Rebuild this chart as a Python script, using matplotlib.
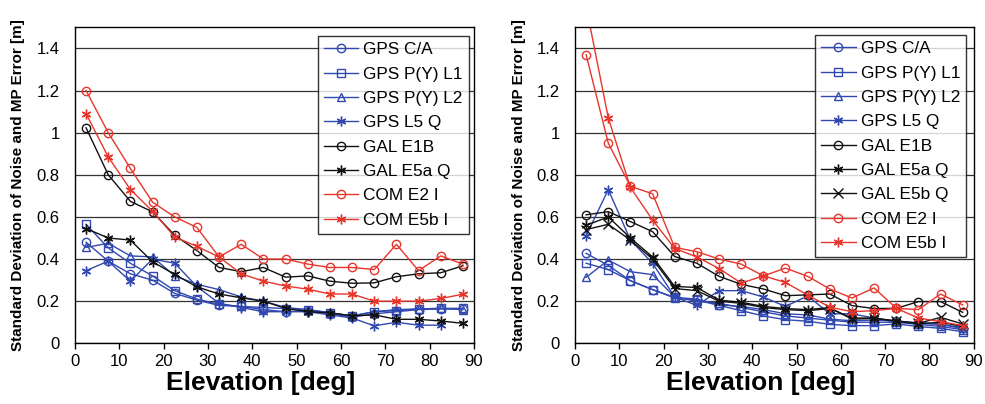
import matplotlib
matplotlib.use("Agg")
import matplotlib.pyplot as plt

plt.rcParams['font.family'] = ['Liberation Sans', 'DejaVu Sans']

# elevation bins [deg]
elev = [2.5, 7.5, 12.5, 17.5, 22.5, 27.5, 32.5, 37.5, 42.5, 47.5,
        52.5, 57.5, 62.5, 67.5, 72.5, 77.5, 82.5, 87.5]

# left panel
gps_ca_l = [0.48, 0.39, 0.33, 0.30, 0.237, 0.205, 0.18, 0.175, 0.16, 0.15,
            0.155, 0.14, 0.125, 0.14, 0.15, 0.16, 0.163, 0.163]
gps_l1_l = [0.565, 0.453, 0.38, 0.32, 0.25, 0.21, 0.185, 0.175, 0.17, 0.165,
            0.16, 0.145, 0.13, 0.15, 0.155, 0.163, 0.166, 0.166]
gps_l2_l = [0.455, 0.475, 0.415, 0.41, 0.32, 0.28, 0.255, 0.22, 0.20, 0.17,
            0.16, 0.145, 0.13, 0.15, 0.16, 0.163, 0.166, 0.16]
gps_l5_l = [0.345, 0.39, 0.295, 0.40, 0.38, 0.27, 0.19, 0.17, 0.15, 0.15,
            0.15, 0.135, 0.12, 0.083, 0.10, 0.086, 0.086]
gal_e1b_l = [1.023, 0.80, 0.674, 0.624, 0.513, 0.44, 0.36, 0.34, 0.36, 0.314,
             0.32, 0.295, 0.285, 0.287, 0.316, 0.33, 0.335, 0.368]
gal_e5a_l = [0.545, 0.50, 0.49, 0.387, 0.327, 0.268, 0.234, 0.216, 0.20, 0.166,
             0.15, 0.145, 0.13, 0.135, 0.114, 0.114, 0.106, 0.095]
com_e2_l = [1.2, 1.0, 0.83, 0.67, 0.60, 0.55, 0.41, 0.47, 0.40, 0.40,
            0.376, 0.36, 0.36, 0.35, 0.47, 0.345, 0.415, 0.376]
com_e5b_l = [1.09, 0.885, 0.73, 0.627, 0.505, 0.46, 0.41, 0.33, 0.295, 0.272,
             0.257, 0.234, 0.234, 0.20, 0.20, 0.20, 0.213, 0.233]

# right panel
gps_ca_r = [0.427, 0.37, 0.297, 0.255, 0.218, 0.21, 0.183, 0.175, 0.16, 0.14,
            0.135, 0.115, 0.107, 0.11, 0.107, 0.095, 0.09, 0.075]
gps_l1_r = [0.38, 0.35, 0.297, 0.255, 0.215, 0.205, 0.18, 0.155, 0.13, 0.112,
            0.105, 0.09, 0.084, 0.084, 0.092, 0.08, 0.071, 0.055]
gps_l2_r = [0.313, 0.395, 0.34, 0.326, 0.22, 0.20, 0.19, 0.17, 0.15, 0.13,
            0.12, 0.11, 0.10, 0.10, 0.10, 0.09, 0.08, 0.065]
gps_l5_r = [0.51, 0.73, 0.49, 0.38, 0.22, 0.18, 0.25, 0.25, 0.22, 0.175,
            0.225, 0.14, 0.14, 0.12, 0.10, 0.10, 0.09, 0.07]
gal_e1b_r = [0.61, 0.625, 0.578, 0.53, 0.412, 0.38, 0.318, 0.28, 0.258, 0.226,
             0.23, 0.234, 0.179, 0.165, 0.166, 0.198, 0.198, 0.147]
gal_e5a_r = [0.56, 0.60, 0.50, 0.41, 0.27, 0.265, 0.205, 0.195, 0.175, 0.165,
             0.16, 0.17, 0.115, 0.118, 0.107, 0.092, 0.10, 0.08]
gal_e5b_r = [0.54, 0.565, 0.49, 0.40, 0.26, 0.25, 0.20, 0.19, 0.17, 0.16,
             0.155, 0.165, 0.12, 0.12, 0.105, 0.095, 0.123, 0.092]
com_e2_r = [1.37, 0.95, 0.745, 0.71, 0.455, 0.435, 0.40, 0.376, 0.32, 0.357,
            0.318, 0.258, 0.215, 0.263, 0.166, 0.16, 0.234, 0.182]
com_e5b_r = [1.6, 1.07, 0.74, 0.585, 0.45, 0.41, 0.355, 0.286, 0.32, 0.289,
             0.229, 0.172, 0.15, 0.155, 0.166, 0.12, 0.103, 0.084]

BLUE = '#3048b0'
RED = '#e8352b'
BLACK = '#111111'
STAR = (6, 2, 0)

left_series = [
    ('GPS C/A', gps_ca_l, BLUE, 'o'),
    ('GPS P(Y) L1', gps_l1_l, BLUE, 's'),
    ('GPS P(Y) L2', gps_l2_l, BLUE, '^'),
    ('GPS L5 Q', gps_l5_l, BLUE, STAR),
    ('GAL E1B', gal_e1b_l, BLACK, 'o'),
    ('GAL E5a Q', gal_e5a_l, BLACK, STAR),
    ('COM E2 I', com_e2_l, RED, 'o'),
    ('COM E5b I', com_e5b_l, RED, STAR),
]
right_series = [
    ('GPS C/A', gps_ca_r, BLUE, 'o'),
    ('GPS P(Y) L1', gps_l1_r, BLUE, 's'),
    ('GPS P(Y) L2', gps_l2_r, BLUE, '^'),
    ('GPS L5 Q', gps_l5_r, BLUE, STAR),
    ('GAL E1B', gal_e1b_r, BLACK, 'o'),
    ('GAL E5a Q', gal_e5a_r, BLACK, STAR),
    ('GAL E5b Q', gal_e5b_r, BLACK, 'x'),
    ('COM E2 I', com_e2_r, RED, 'o'),
    ('COM E5b I', com_e5b_r, RED, STAR),
]


def draw_panel(ax, series, legend_anchor):
    for name, vals, col, mk in series:
        ms = 7 if mk in (STAR, 'x') else 6
        ax.plot(elev[:len(vals)], vals, color=col, lw=1.0, marker=mk,
                markersize=ms, markerfacecolor='none', markeredgecolor=col,
                markeredgewidth=1.0, label=name)
    ax.set_xlim(0, 90)
    ax.set_ylim(0, 1.5)
    ax.set_xticks(range(0, 91, 10))
    ax.set_yticks([0, 0.2, 0.4, 0.6, 0.8, 1.0, 1.2, 1.4])
    ax.set_yticklabels(['0', '0.2', '0.4', '0.6', '0.8', '1', '1.2', '1.4'])
    ax.yaxis.grid(True, color='#333333', lw=0.9)
    ax.set_axisbelow(True)
    ax.tick_params(axis='y', length=0, pad=11, labelsize=12)
    ax.tick_params(axis='x', length=4, width=1, direction='out', pad=4, labelsize=12)
    for sp in ax.spines.values():
        sp.set_color('black')
        sp.set_linewidth(1.0)
    ax.set_xlabel('Elevation [deg]', fontsize=19, fontweight='bold')
    ax.xaxis.set_label_coords(0.465, -0.088)
    ax.set_ylabel('Standard Deviation of Noise and MP Error [m]', fontsize=11,
                  fontweight='bold', labelpad=8)
    leg = ax.legend(loc='upper right', bbox_to_anchor=legend_anchor, fontsize=12.4,
                    frameon=True, fancybox=False, edgecolor='black',
                    handlelength=2.0, labelspacing=0.54, borderpad=0.35,
                    handletextpad=0.3, borderaxespad=0)
    leg.get_frame().set_linewidth(1.0)


fig = plt.figure(figsize=(9.85, 4.04), dpi=100)
ax1 = fig.add_axes([0.0761, 0.1502, 0.4051, 0.7822])
ax2 = fig.add_axes([0.5838, 0.1502, 0.4048, 0.7822])

draw_panel(ax1, left_series, (0.987, 0.972))
draw_panel(ax2, right_series, (0.981, 0.975))

fig.savefig('out.png', dpi=100)
